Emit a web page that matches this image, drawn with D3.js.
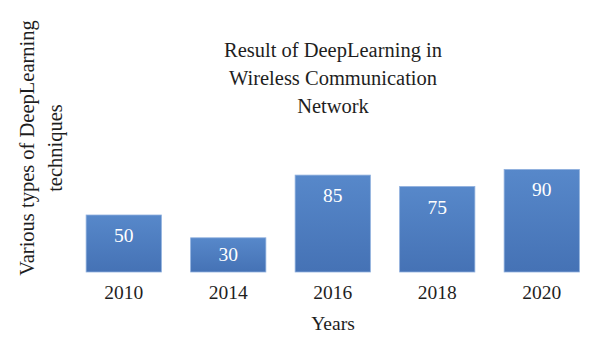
<!DOCTYPE html>
<html><head><meta charset="utf-8">
<script src="https://cdn.jsdelivr.net/npm/d3@7"></script>
<style>body{margin:0;background:#fff}svg{display:block}text{font-family:"Liberation Serif","DejaVu Serif",serif;fill:#1e1e1e}</style>
</head><body>
<script>
const categories = ["2010","2014","2016","2018","2020"];
const values = [50,30,85,75,90];
const titleLines = ["Result of DeepLearning in","Wireless Communication","Network"];
const yTitleLines = ["Various types of DeepLearning","techniques"];
const xTitle = "Years";

const W=600,H=347;
const svg=d3.select("body").append("svg").attr("width",W).attr("height",H);
const defs=svg.append("defs");
const g=defs.append("linearGradient").attr("id","bg").attr("x1",0).attr("x2",0).attr("y1",0).attr("y2",1);
g.append("stop").attr("offset","0%").attr("stop-color","#5788ca");
g.append("stop").attr("offset","100%").attr("stop-color","#4572b5");

const x=d3.scaleBand().domain(categories).range([71.5,594]).paddingInner(0.28).paddingOuter(0.14);
const y=d3.scaleLinear().domain([0,100]).range([272,158]);

svg.selectAll("rect.bar").data(values).join("rect").attr("class","bar")
  .attr("x",(d,i)=>x(categories[i])).attr("width",x.bandwidth())
  .attr("y",d=>y(d)).attr("height",d=>y(0)-y(d))
  .attr("fill","url(#bg)").attr("stroke","#8fb0de").attr("stroke-width",0.8);

svg.selectAll("text.val").data(values).join("text").attr("class","val")
  .attr("x",(d,i)=>x(categories[i])+x.bandwidth()/2)
  .attr("y",d=>Math.min(y(d)+27,(y(d)+y(0))/2+6))
  .attr("text-anchor","middle").attr("font-size",19.5).style("fill","#fff").text(d=>d);

const xa=svg.append("g").attr("transform","translate(0,272)").call(d3.axisBottom(x).tickSize(0).tickPadding(0));
xa.select(".domain").remove();
xa.selectAll("text").attr("dy",null).attr("y",27).attr("font-size",19.5).style("font-family",'"Liberation Serif",serif').style("fill","#1e1e1e");

svg.append("text").attr("x",333).attr("y",330).attr("text-anchor","middle").attr("font-size",19.5).text(xTitle);

titleLines.forEach((t,i)=>svg.append("text").attr("x",333).attr("y",57+i*28).attr("text-anchor","middle").attr("font-size",20.5).text(t));

yTitleLines.forEach((t,i)=>svg.append("text").attr("transform",`translate(34,${148}) rotate(-90)`).attr("dy",i*28).attr("text-anchor","middle").attr("font-size",20.5).text(t));
</script>
</body></html>
